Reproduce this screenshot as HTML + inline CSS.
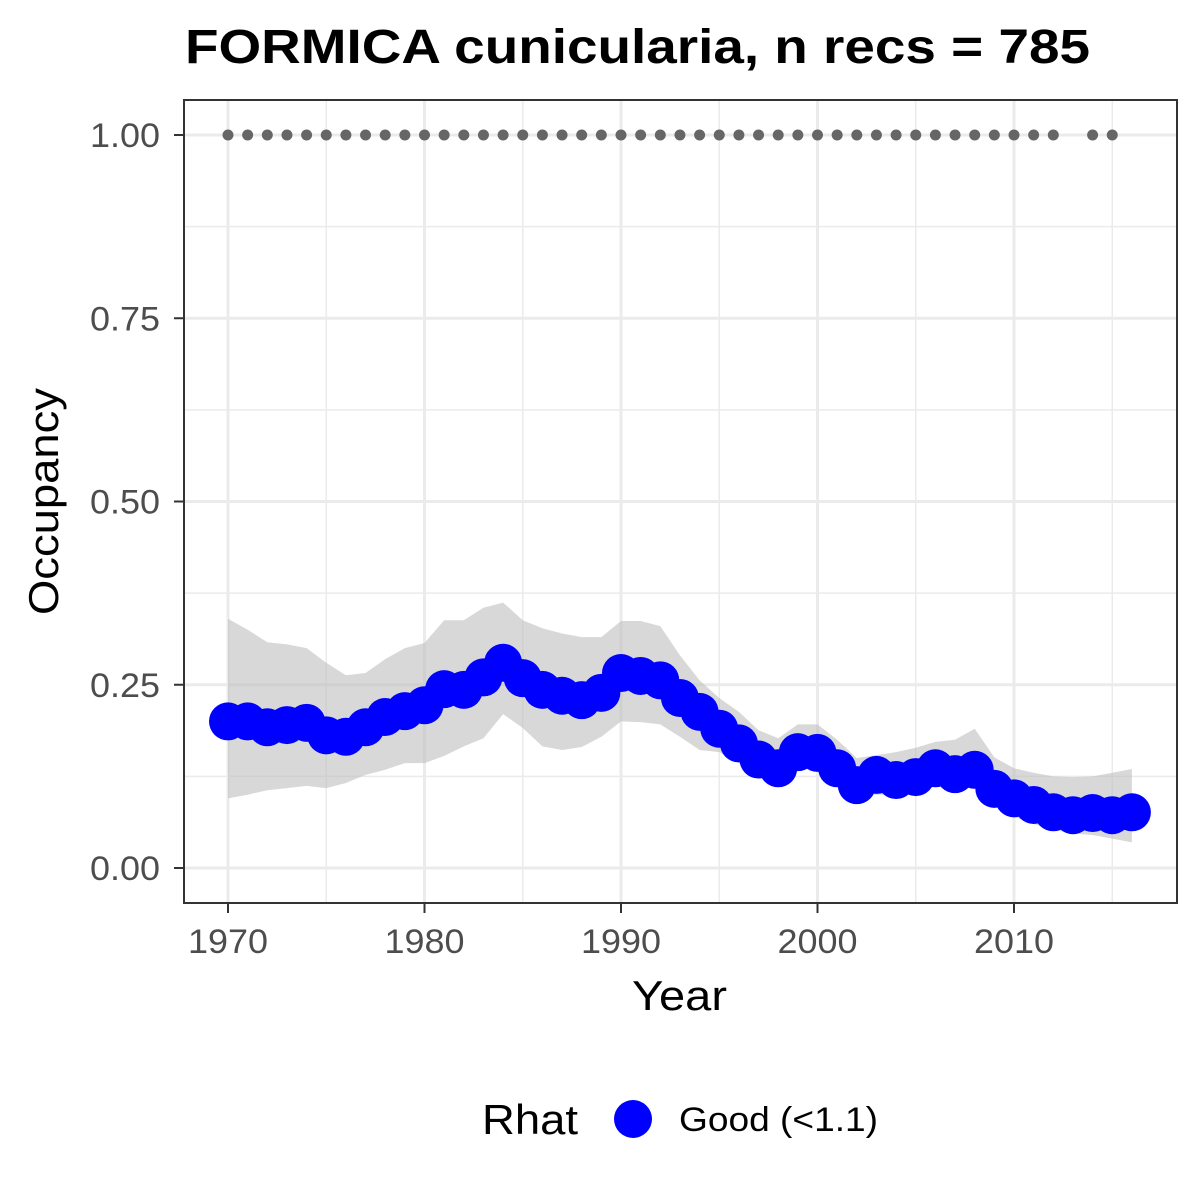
<!DOCTYPE html>
<html><head><meta charset="utf-8"><style>
body{margin:0;background:#fff;}
svg{display:block;font-family:"Liberation Sans",Arial,sans-serif;}
</style></head><body>
<svg id="chart" width="1200" height="1200" viewBox="0 0 1200 1200">
<rect width="1200" height="1200" fill="#fff"/>
<text x="185" y="63" font-size="48" font-weight="bold" fill="#000" textLength="905" lengthAdjust="spacingAndGlyphs">FORMICA cunicularia, n recs = 785</text>
<g id="grid"></g>
<g id="band"></g>
<g id="dots"></g>
<g id="pts"></g>
<rect x="184" y="100" width="993" height="803" fill="none" stroke="#333" stroke-width="2"/>
<g id="axes"></g>
<text x="632" y="1010" font-size="42" fill="#000" textLength="95" lengthAdjust="spacingAndGlyphs">Year</text>
<text transform="translate(58,615) rotate(-90)" font-size="42" fill="#000" textLength="227" lengthAdjust="spacingAndGlyphs">Occupancy</text>
<g>
<text x="482" y="1134" font-size="42" fill="#000" textLength="96" lengthAdjust="spacingAndGlyphs">Rhat</text>
<circle cx="633" cy="1119" r="19" fill="#0000ff"/>
<text x="679" y="1131" font-size="34" fill="#000" textLength="199" lengthAdjust="spacingAndGlyphs">Good (&lt;1.1)</text>
</g>
</svg>
<script>
const years=[1970,1971,1972,1973,1974,1975,1976,1977,1978,1979,1980,1981,1982,1983,1984,1985,1986,1987,1988,1989,1990,1991,1992,1993,1994,1995,1996,1997,1998,1999,2000,2001,2002,2003,2004,2005,2006,2007,2008,2009,2010,2011,2012,2013,2014,2015,2016];
const mean=[0.200,0.200,0.192,0.195,0.198,0.181,0.179,0.192,0.206,0.214,0.222,0.244,0.243,0.260,0.280,0.259,0.243,0.235,0.229,0.239,0.266,0.262,0.256,0.232,0.213,0.190,0.170,0.148,0.136,0.158,0.157,0.136,0.113,0.127,0.120,0.124,0.136,0.128,0.134,0.108,0.095,0.086,0.076,0.072,0.075,0.072,0.076];
const upper=[0.340,0.325,0.308,0.305,0.300,0.280,0.263,0.266,0.285,0.300,0.307,0.338,0.338,0.355,0.362,0.338,0.327,0.320,0.315,0.315,0.337,0.337,0.330,0.290,0.256,0.232,0.213,0.188,0.177,0.196,0.196,0.175,0.150,0.154,0.158,0.164,0.172,0.175,0.190,0.151,0.136,0.130,0.125,0.124,0.125,0.130,0.135];
const lower=[0.095,0.100,0.106,0.109,0.112,0.109,0.116,0.127,0.134,0.143,0.143,0.153,0.166,0.177,0.210,0.191,0.166,0.161,0.165,0.179,0.200,0.199,0.196,0.179,0.161,0.158,0.143,0.128,0.118,0.138,0.140,0.124,0.100,0.100,0.100,0.105,0.115,0.110,0.115,0.085,0.070,0.060,0.052,0.047,0.045,0.040,0.035];
const recYears=[1970,1971,1972,1973,1974,1975,1976,1977,1978,1979,1980,1981,1982,1983,1984,1985,1986,1987,1988,1989,1990,1991,1992,1993,1994,1995,1996,1997,1998,1999,2000,2001,2002,2003,2004,2005,2006,2007,2008,2009,2010,2011,2012,2014,2015];
const xTicks=[1970,1980,1990,2000,2010];
const yTicks=[0,0.25,0.5,0.75,1];
const yTickLabels=["0.00","0.25","0.50","0.75","1.00"];

const NS="http://www.w3.org/2000/svg";
const X=y=>228+(y-1970)*19.65;
const Y=v=>868-v*733;
function mk(tag,attrs,parent){const e=document.createElementNS(NS,tag);for(const k in attrs)e.setAttribute(k,attrs[k]);document.getElementById(parent).appendChild(e);return e;}

for(let i=0;i<yTicks.length;i++){
  const l=mk('line',{x1:184,x2:1177,y1:Y(yTicks[i]),y2:Y(yTicks[i]),stroke:'#ebebeb','stroke-width':3},'grid');
  
  
  if(i<yTicks.length-1){
    const m=mk('line',{x1:184,x2:1177,y1:Y((yTicks[i]+yTicks[i+1])/2),y2:Y((yTicks[i]+yTicks[i+1])/2),stroke:'#ebebeb','stroke-width':1.5},'grid');
    
    
  }
}
for(let i=0;i<xTicks.length;i++){
  const l=mk('line',{x1:X(xTicks[i]),x2:X(xTicks[i]),y1:100,y2:903,stroke:'#ebebeb','stroke-width':3},'grid');
  
  
  const m=mk('line',{x1:X(xTicks[i]+5),x2:X(xTicks[i]+5),y1:100,y2:903,stroke:'#ebebeb','stroke-width':1.5},'grid');
  
  
}
let d='';
years.forEach((y,i)=>{d+=(i?'L':'M')+X(y)+','+Y(upper[i]);});
for(let i=years.length-1;i>=0;i--)d+='L'+X(years[i])+','+Y(lower[i]);
const band=mk('path',{d:d+'Z',fill:'#bebebe','fill-opacity':0.6},'band');


recYears.forEach(y=>{
  const c=mk('circle',{cx:X(y),cy:Y(1),r:5.5,fill:'#666666'},'dots');
  
  
});
years.forEach((y,i)=>{
  const c=mk('circle',{cx:X(y),cy:Y(mean[i]),r:19,fill:'#0000ff'},'pts');
  
  
});
yTicks.forEach((v,i)=>{
  const t=mk('line',{x1:174,x2:184,y1:Y(v),y2:Y(v),stroke:'#333','stroke-width':2},'axes');
  
  
  const tx=mk('text',{x:90,y:Y(v)+12,'font-size':34,fill:'#4d4d4d',textLength:70,lengthAdjust:'spacingAndGlyphs'},'axes');
  tx.textContent=yTickLabels[i];
  
  
});
xTicks.forEach(v=>{
  const t=mk('line',{x1:X(v),x2:X(v),y1:903,y2:913,stroke:'#333','stroke-width':2},'axes');
  
  
  const tx=mk('text',{x:X(v)-40,y:953,'font-size':34,fill:'#4d4d4d',textLength:80,lengthAdjust:'spacingAndGlyphs'},'axes');
  tx.textContent=String(v);
  
  
});
</script>
</body></html>
